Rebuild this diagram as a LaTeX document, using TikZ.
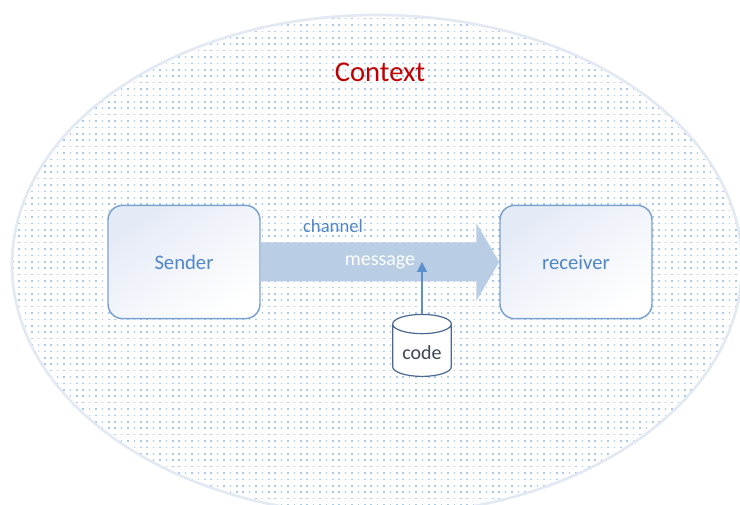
\documentclass[tikz,border=0pt]{standalone}
\usepackage{fontspec}
\setmainfont{Carlito}
\usetikzlibrary{patterns,shapes.geometric,arrows.meta,calc}

\definecolor{dotblue}{HTML}{A9C9EC}
\definecolor{ctxedge}{HTML}{E2E9F3}
\definecolor{boxedge}{HTML}{7AA1D0}
\definecolor{boxtint}{HTML}{E4EAF6}
\definecolor{flowfill}{HTML}{B9CDE5}
\definecolor{linkblue}{HTML}{5B8FCB}
\definecolor{labelblue}{HTML}{4F86C6}
\definecolor{drumedge}{HTML}{4A6890}
\definecolor{drumtext}{HTML}{3C4656}
\definecolor{ctxred}{HTML}{C00000}

% light dotted fill of the context area (grid of small squares, 4.8pt apart)
\pgfdeclarepatternformonly{ctxdots}
  {\pgfpoint{-2.4pt}{-2.4pt}}{\pgfpoint{2.4pt}{2.4pt}}{\pgfpoint{4.8pt}{4.8pt}}
  {\pgfpathrectangle{\pgfpoint{-0.55pt}{-0.55pt}}{\pgfpoint{1.1pt}{1.1pt}}\pgfusepath{fill}}

\tikzset{
  party/.style={draw=boxedge, line width=1.1pt, rounded corners=11pt,
    minimum width=114pt, minimum height=85pt,
    top color=boxtint, bottom color=white, shading angle=35,
    text=labelblue, font=\fontsize{15.5}{18}\selectfont},
  drum/.style={cylinder, shape border rotate=90, aspect=0.4, draw=drumedge,
    line width=0.9pt, fill=white, minimum width=44pt, minimum height=46.5pt,
    text=drumtext, font=\fontsize{15}{18}\selectfont},
  flow/.style={fill=flowfill},
  link/.style={draw=linkblue, line width=1.1pt,
    -{Triangle[length=7.5pt,width=7.5pt]}},
}

\begin{document}
\begin{tikzpicture}[x=0.75pt,y=-0.75pt]
\useasboundingbox (0,0) rectangle (740,505);
\clip (0,0) rectangle (740,505);

% context area
\path[pattern=ctxdots, pattern color=dotblue]
  (377,265) ellipse [x radius=365, y radius=250];
\draw[ctxedge, line width=2pt]
  (377,265) ellipse [x radius=365, y radius=250];
\node[text=ctxred, font=\fontsize{21.5}{24}\selectfont] (context) at (380,72) {Context};

% sender and receiver
\node[party] (sender) at (184,262) {Sender};
\node[party] (receiver) at (576,262) {receiver};

% channel arrow carrying the message
\path[flow]
  ($(sender.east)+(0,-19.5)$) -- ($(receiver.west)+(-23,-19.5)$)
  -- ($(receiver.west)+(-23,-39)$) -- (receiver.west)
  -- ($(receiver.west)+(-23,39)$) -- ($(receiver.west)+(-23,19.5)$)
  -- ($(sender.east)+(0,19.5)$) -- cycle;
\node[text=labelblue, font=\fontsize{14}{16}\selectfont] (channel) at (333,226) {channel};
\node[text=white, font=\fontsize{15}{18}\selectfont] (message) at (380,262) {message};

% code store feeding the message
\node[drum, anchor=bottom] (code) at (422,377) {code};
\coordinate (entry) at (code.top |- message.center);
\draw[link] (code.top) -- (entry);
\end{tikzpicture}
\end{document}
